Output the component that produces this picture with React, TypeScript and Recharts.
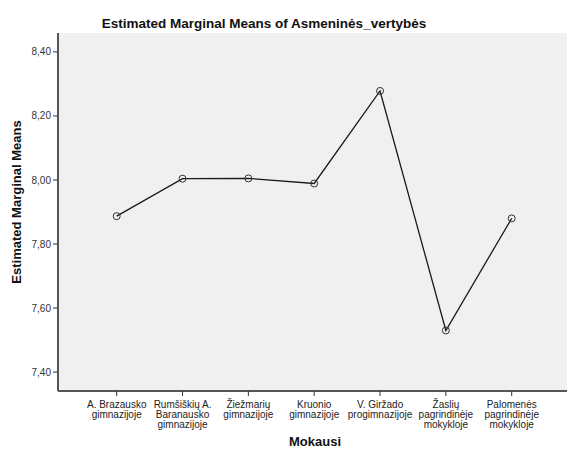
import { LineChart, Line, XAxis, YAxis, CartesianGrid } from "recharts";

const schools = [
  "A. Brazausko\ngimnazijoje",
  "Rumšiškių A.\nBaranausko\ngimnazijoje",
  "Žiežmarių\ngimnazijoje",
  "Kruonio\ngimnazijoje",
  "V. Giržado\nprogimnazijoje",
  "Žaslių\npagrindinėje\nmokykloje",
  "Palomenės\npagrindinėje\nmokykloje",
];
const means = [7.887, 8.004, 8.005, 7.989, 8.278, 7.53, 7.88];
const yTicks = [7.4, 7.6, 7.8, 8.0, 8.2, 8.4];

const data = schools.map((name, i) => ({ name, mean: means[i] }));

const FONT = "'Liberation Sans', Arial, sans-serif";

function SchoolTick(props: any) {
  const { x, y, payload } = props;
  const lines = String(payload.value).split("\n");
  return (
    <g transform={`translate(${x},${y})`}>
      {lines.map((l, i) => (
        <text
          key={i}
          x={0}
          y={10 + i * 10}
          textAnchor="middle"
          fontSize={10}
          fill="#222"
          fontFamily={FONT}
        >
          {l}
        </text>
      ))}
    </g>
  );
}

export default function App() {
  return (
    <div style={{ position: "absolute", left: 0, top: 0, width: 567, height: 450, background: "#fff", fontFamily: FONT }}>
      <svg width={567} height={450} style={{ position: "absolute", left: 0, top: 0 }}>
        <text x={264} y={28} textAnchor="middle" fontSize={13.5} fontWeight="bold" fill="#111" fontFamily={FONT}>
          Estimated Marginal Means of Asmeninės_vertybės
        </text>
        <text x={315} y={446} textAnchor="middle" fontSize={13} fontWeight="bold" fill="#111" fontFamily={FONT}>
          Mokausi
        </text>
        <text
          transform="translate(21,202) rotate(-90)"
          textAnchor="middle"
          fontSize={13}
          fontWeight="bold"
          fill="#111"
          fontFamily={FONT}
        >
          Estimated Marginal Means
        </text>
      </svg>
      <div style={{ position: "absolute", left: 0, top: 0 }}>
        <LineChart width={567} height={450} data={data} margin={{ top: 33, right: 0, left: 0, bottom: 0 }}>
          <CartesianGrid fill="#f0f0f0" horizontal={false} vertical={false} />
          <XAxis
            xAxisId="top"
            orientation="top"
            dataKey="name"
            height={0}
            tick={false}
            tickLine={false}
            axisLine={{ stroke: "#8a8a8a", strokeWidth: 2 }}
          />
          <XAxis
            dataKey="name"
            height={59}
            interval={0}
            padding={{ left: 58.7, right: 55.3 }}
            tick={<SchoolTick />}
            tickSize={5}
            tickLine={{ stroke: "#333" }}
            axisLine={{ stroke: "#555", strokeWidth: 2 }}
          />
          <YAxis
            width={58}
            domain={[7.341, 8.459]}
            ticks={yTicks}
            allowDataOverflow
            tickSize={5}
            tickMargin={2}
            tickLine={{ stroke: "#333" }}
            axisLine={{ stroke: "#555", strokeWidth: 2 }}
            tick={{ fontSize: 10, fill: "#333", fontFamily: FONT }}
            tickFormatter={(v: number) => v.toFixed(2).replace(".", ",")}
          />
          <Line
            type="linear"
            dataKey="mean"
            stroke="#1a1a1a"
            strokeWidth={1.3}
            dot={{ r: 3.5, stroke: "#333", strokeWidth: 1, fill: "none" }}
            activeDot={false}
            isAnimationActive={false}
          />
        </LineChart>
      </div>
    </div>
  );
}
